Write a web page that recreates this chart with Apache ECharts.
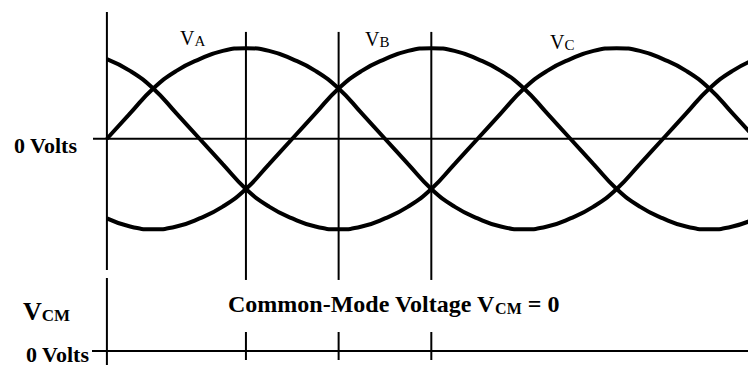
<!DOCTYPE html>
<html>
<head>
<meta charset="utf-8">
<script src="https://cdn.jsdelivr.net/npm/echarts@6/dist/echarts.min.js"></script>
<style>
  html, body { margin: 0; padding: 0; background: #fff; }
  #chart { width: 748px; height: 367px; }
</style>
</head>
<body>
<div id="chart"></div>
<script>
// electrical angle in degrees
const angles = [0, 15, 30, 45, 60, 75, 90, 105, 120, 135, 150, 165, 180, 195, 210,
  225, 240, 255, 270, 285, 300, 315, 330, 345, 360, 375, 390, 405, 420];

// phase voltages, per unit of peak
const phaseA = [0, 0.28, 0.555, 0.75, 0.88, 0.97, 1, 0.97, 0.88, 0.75, 0.555, 0.28, 0, -0.28, -0.555,
  -0.75, -0.88, -0.97, -1, -0.97, -0.88, -0.75, -0.555, -0.28, 0, 0.28, 0.555, 0.75, 0.88];
const phaseB = [-0.88, -0.97, -1, -0.97, -0.88, -0.75, -0.555, -0.28, 0, 0.28, 0.555, 0.75, 0.88, 0.97, 1,
  0.97, 0.88, 0.75, 0.555, 0.28, 0, -0.28, -0.555, -0.75, -0.88, -0.97, -1, -0.97, -0.88];
const phaseC = [0.88, 0.75, 0.555, 0.28, 0, -0.28, -0.555, -0.75, -0.88, -0.97, -1, -0.97, -0.88, -0.75, -0.555,
  -0.28, 0, 0.28, 0.555, 0.75, 0.88, 0.97, 1, 0.97, 0.88, 0.75, 0.555, 0.28, 0];

// common-mode voltage (flat zero)
const cmAngles = [-9.7, 415];
const commonMode = [0, 0];

// angles of the vertical reference lines
const markAngles = [90, 150, 210];

const phaseNames = ['A', 'B', 'C'];

const chart = echarts.init(document.getElementById('chart'), null, { renderer: 'svg' });

const serif = '"Liberation Serif", "DejaVu Serif", serif';
const black = '#000';

function pairs(xs, ys) {
  return xs.map((x, i) => [x, ys[i]]);
}

function segment(name, grid, x0, y0, x1, y1, width) {
  return {
    name: name,
    type: 'line',
    xAxisIndex: grid,
    yAxisIndex: grid,
    data: [[x0, y0], [x1, y1]],
    symbol: 'none',
    clip: false,
    silent: true,
    lineStyle: { color: black, width: width },
  };
}

function curve(name, ys) {
  return {
    name: name,
    type: 'line',
    xAxisIndex: 0,
    yAxisIndex: 0,
    data: pairs(angles, ys),
    smooth: true,
    symbol: 'none',
    lineStyle: { color: black, width: 4 },
  };
}

const series = [
  segment('zero', 0, -9, 0, 415, 0, 2),
  segment('axis', 0, 0, 1.4, 0, -1.45, 2),
  segment('axisCM', 1, 0, 73, 0, -14, 2),
];

markAngles.forEach((a) => {
  series.push(segment('mark' + a, 0, a, 1.18, a, -1.56, 2));
  series.push(segment('tick' + a, 1, a, 19, a, -9, 2));
});

series.push(curve('VA', phaseA));
series.push(curve('VB', phaseB));
series.push(curve('VC', phaseC));
series.push({
  name: 'VCM',
  type: 'line',
  xAxisIndex: 1,
  yAxisIndex: 1,
  data: pairs(cmAngles, commonMode),
  symbol: 'none',
  clip: false,
  lineStyle: { color: black, width: 2 },
});

const phaseLabelPos = [[180, 38], [365, 39], [550, 42]];

const graphics = phaseNames.map((p, i) => ({
  type: 'text',
  x: phaseLabelPos[i][0],
  y: phaseLabelPos[i][1],
  style: {
    text: '{v|V}{s|' + p + '}',
    verticalAlign: 'middle',
    rich: {
      v: { font: '20px ' + serif, fill: black, verticalAlign: 'bottom', lineHeight: 20 },
      s: { font: '15px ' + serif, fill: black, verticalAlign: 'bottom', lineHeight: 8 },
    },
  },
}));

graphics.push(
  {
    type: 'text',
    x: 77,
    y: 145,
    style: { text: '0 Volts', font: 'bold 22px ' + serif, fill: black, align: 'right', verticalAlign: 'middle' },
  },
  {
    type: 'text',
    x: 89,
    y: 354,
    style: { text: '0 Volts', font: 'bold 22px ' + serif, fill: black, align: 'right', verticalAlign: 'middle' },
  },
  {
    type: 'text',
    x: 23,
    y: 311,
    style: {
      text: '{v|V}{s|CM}',
      verticalAlign: 'middle',
      rich: {
        v: { font: 'bold 26px ' + serif, fill: black, verticalAlign: 'bottom', lineHeight: 26 },
        s: { font: 'bold 17px ' + serif, fill: black, verticalAlign: 'bottom', lineHeight: 9 },
      },
    },
  },
  {
    type: 'text',
    x: 228,
    y: 304,
    style: {
      text: '{t|Common-Mode Voltage V}{s|CM}{t| = 0}',
      verticalAlign: 'middle',
      rich: {
        t: { font: 'bold 24px ' + serif, fill: black, verticalAlign: 'bottom', lineHeight: 24 },
        s: { font: 'bold 16px ' + serif, fill: black, verticalAlign: 'bottom', lineHeight: 8 },
      },
    },
  }
);

chart.setOption({
  animation: false,
  backgroundColor: '#fff',
  grid: [
    { left: 93, right: 0, top: 12, height: 258 },
    { left: 93, right: 0, top: 278, height: 89 },
  ],
  xAxis: [
    { gridIndex: 0, type: 'value', min: -9, max: 415, show: false },
    { gridIndex: 1, type: 'value', min: -9, max: 415, show: false },
  ],
  yAxis: [
    { gridIndex: 0, type: 'value', min: -1.45, max: 1.4, show: false },
    { gridIndex: 1, type: 'value', min: -16, max: 73, show: false },
  ],
  graphic: graphics,
  series: series,
});
</script>
</body>
</html>
